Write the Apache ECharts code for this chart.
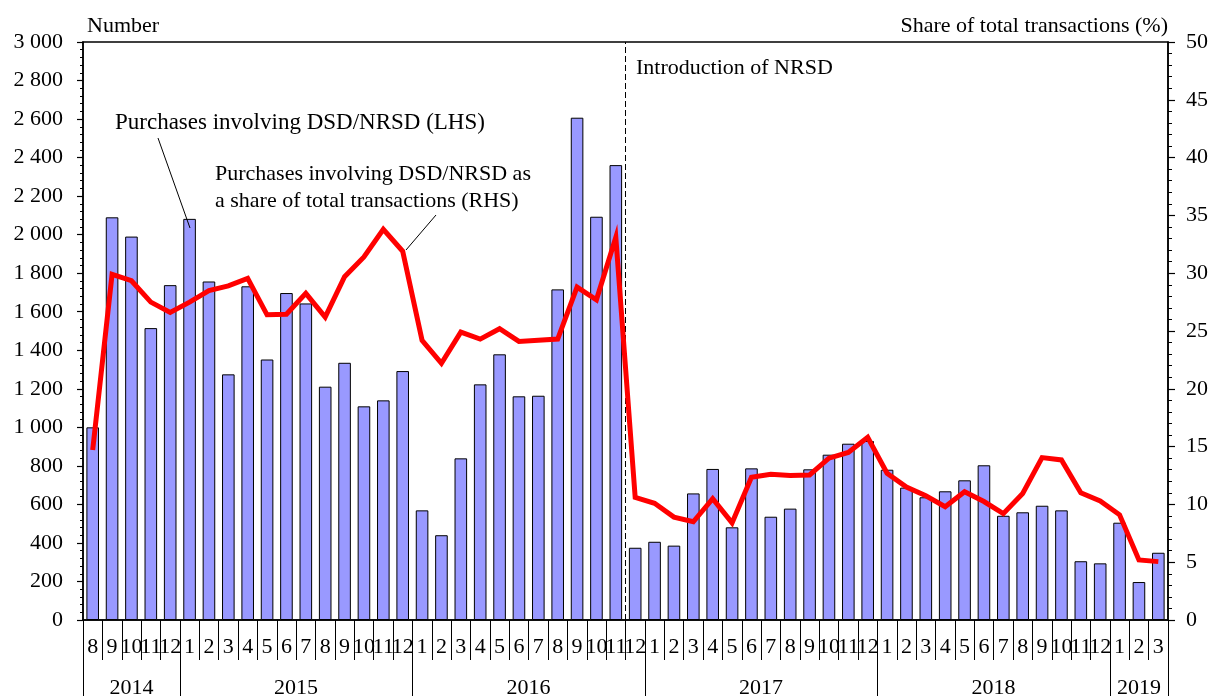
<!DOCTYPE html>
<html>
<head>
<meta charset="utf-8">
<title>DSD/NRSD purchases</title>
<script src="https://cdn.jsdelivr.net/npm/echarts@6/dist/echarts.min.js"></script>
<style>
  html, body { margin: 0; padding: 0; background: #fff; }
  #chart { width: 1213px; height: 696px; }
</style>
</head>
<body>
<div id="chart"></div>
<script>
// month labels, Aug 2014 .. Mar 2019
var monthLabels = [
  '8', '9', '10', '11', '12',
  '1', '2', '3', '4', '5', '6', '7', '8', '9', '10', '11', '12',
  '1', '2', '3', '4', '5', '6', '7', '8', '9', '10', '11', '12',
  '1', '2', '3', '4', '5', '6', '7', '8', '9', '10', '11', '12',
  '1', '2', '3', '4', '5', '6', '7', '8', '9', '10', '11', '12',
  '1', '2', '3'
];
var yearNames = ['2014', '2015', '2016', '2017', '2018', '2019'];
var yearSpans = [5, 12, 12, 12, 12, 3];

// Purchases involving DSD/NRSD (LHS, number)
var purchases = [
  1000, 2090, 1990, 1515, 1738,
  2082, 1757, 1275, 1732, 1352, 1697, 1643, 1211, 1335, 1109, 1140, 1292,
  569, 440, 839, 1223, 1379, 1161, 1164, 1716, 2607, 2093, 2361, 375,
  406, 386, 657, 784, 481, 787, 536, 578, 782, 858, 915, 929,
  780, 687, 637, 668, 725, 803, 541, 559, 593, 569, 305, 294,
  505, 197, 349
];

// Purchases as share of total transactions (RHS, %)
var sharePct = [
  14.7, 29.9, 29.35, 27.5, 26.6,
  27.5, 28.5, 28.9, 29.55, 26.4, 26.45, 28.26, 26.2, 29.7, 31.4, 33.8, 31.9,
  24.2, 22.2, 24.9, 24.3, 25.2, 24.1, 24.2, 24.3, 28.8, 27.7, 33.1, 10.6,
  10.1, 8.9, 8.5, 10.5, 8.4, 12.35, 12.6, 12.5, 12.55, 14.0, 14.5, 15.8,
  12.7, 11.5, 10.75, 9.8, 11.1, 10.25, 9.2, 10.95, 14.05, 13.85, 11.0, 10.3,
  9.1, 5.2, 5.05
];

// boundary (in months from Aug 2014) where NRSD was introduced
var nrsdBoundary = [28, 28];
var nrsdSpan = [0, 3000];

var FONT = "'Liberation Serif', 'Times New Roman', serif";
var FS = 22;

function thousands(v){
  if(v < 1000){
    return String(v);
  }
  var rest = String(v % 1000);
  while(rest.length < 3){ rest = '0' + rest; }
  return Math.floor(v / 1000) + ' ' + rest;
}

// year axis: one entry per month, label in the middle of each year, tick at year starts
var yearAxisData = [];
var yearLabelAt = {};
var yearStartAt = {};
var pos = 0;
for(var i = 0; i < yearNames.length; i++){
  var span = yearSpans[i];
  var mid = pos + Math.floor((span - 1) / 2);
  yearStartAt[pos] = true;
  yearLabelAt[mid] = (span % 2 === 0 ? '{even|' : '{odd|') + yearNames[i] + '}';
  for(var j = 0; j < span; j++){
    yearAxisData.push(yearNames[i]);
  }
  pos += span;
}

var chart = echarts.init(document.getElementById('chart'));

var option = {
  animation: false,
  backgroundColor: '#fff',
  textStyle: { fontFamily: FONT, color: '#000' },
  grid: {
    left: 83, right: 45, top: 42, bottom: 76,
    show: true, borderColor: '#000', borderWidth: 1.5,
    containLabel: false,
    outerBoundsMode: 'none'
  },
  xAxis: [{
    type: 'category',
    position: 'bottom',
    data: monthLabels,
    boundaryGap: true,
    axisLine: { show: true, lineStyle: { color: '#000', width: 1.5 } },
    axisTick: { show: true, interval: 0, length: 40, lineStyle: { color: '#000', width: 1 } },
    axisLabel: { interval: 0, margin: 16, color: '#000', fontFamily: FONT, fontSize: FS },
    splitLine: { show: false }
  }, {
    type: 'category',
    position: 'bottom',
    data: yearAxisData,
    boundaryGap: true,
    axisLine: { show: false },
    axisTick: {
      show: true, length: 76,
      interval: function(index){ return yearStartAt[index] === true; },
      lineStyle: { color: '#000', width: 1 }
    },
    axisLabel: {
      margin: 57,
      interval: function(index){ return yearLabelAt[index] != null; },
      formatter: function(value, index){ return yearLabelAt[index] || ''; },
      rich: {
        odd: { color: '#000', fontFamily: FONT, fontSize: FS },
        even: { color: '#000', fontFamily: FONT, fontSize: FS, padding: [0, 0, 0, 19] }
      }
    },
    splitLine: { show: false }
  }, {
    type: 'value',
    position: 'top',
    min: 0, max: monthLabels.length,
    show: false
  }],
  yAxis: [{
    type: 'value',
    position: 'left',
    min: 0, max: 3000, interval: 200,
    name: 'Number',
    nameLocation: 'end',
    nameGap: 5,
    nameTextStyle: { color: '#000', fontFamily: FONT, fontSize: FS, align: 'left', verticalAlign: 'bottom', padding: [0, 0, 0, 4] },
    axisLine: { show: true, lineStyle: { color: '#000', width: 1.5 } },
    axisTick: { show: true, inside: false, length: 6, lineStyle: { color: '#000', width: 1.2 } },
    minorTick: { show: true, splitNumber: 5, length: 3, lineStyle: { color: '#000', width: 1 } },
    axisLabel: { margin: 20, color: '#000', fontFamily: FONT, fontSize: FS, formatter: thousands },
    splitLine: { show: false }
  }, {
    type: 'value',
    position: 'right',
    min: 0, max: 50, interval: 5,
    name: 'Share of total transactions (%)',
    nameLocation: 'end',
    nameGap: 5,
    nameTextStyle: { color: '#000', fontFamily: FONT, fontSize: FS, align: 'right', verticalAlign: 'bottom' },
    axisLine: { show: true, lineStyle: { color: '#000', width: 1.5 } },
    axisTick: { show: true, inside: false, length: 7, lineStyle: { color: '#000', width: 1.2 } },
    minorTick: { show: true, splitNumber: 5, length: 4, lineStyle: { color: '#000', width: 1 } },
    axisLabel: { margin: 18, color: '#000', fontFamily: FONT, fontSize: FS },
    splitLine: { show: false }
  }],
  series: [{
    name: 'Purchases involving DSD/NRSD (LHS)',
    type: 'bar',
    xAxisIndex: 0,
    yAxisIndex: 0,
    data: purchases,
    barWidth: '65%',
    itemStyle: { color: '#9999ff', borderColor: '#000', borderWidth: 1 },
    z: 2
  }, {
    name: 'NRSD introduced',
    type: 'line',
    xAxisIndex: 2,
    yAxisIndex: 0,
    data: [[nrsdBoundary[0], nrsdSpan[0]], [nrsdBoundary[1], nrsdSpan[1]]],
    symbol: 'none',
    lineStyle: { color: '#000', width: 1, type: [6, 3] },
    z: 3
  }, {
    name: 'Purchases involving DSD/NRSD as a share of total transactions (RHS)',
    type: 'line',
    xAxisIndex: 0,
    yAxisIndex: 1,
    data: sharePct,
    symbol: 'none',
    lineStyle: { color: '#ff0000', width: 5, join: 'miter' },
    z: 4
  }],
  graphic: [
    { type: 'text', left: 115, top: 111, style: { text: 'Purchases involving DSD/NRSD (LHS)', fill: '#000', font: '23px ' + FONT } },
    { type: 'line', shape: { x1: 158, y1: 138, x2: 190, y2: 228 }, style: { stroke: '#000', lineWidth: 1 }, z: 10 },
    { type: 'text', left: 215, top: 161, style: { text: 'Purchases involving DSD/NRSD as\na share of total transactions (RHS)', fill: '#000', font: FS + 'px ' + FONT, lineHeight: 27 } },
    { type: 'line', shape: { x1: 436, y1: 215, x2: 406, y2: 250 }, style: { stroke: '#000', lineWidth: 1 }, z: 10 },
    { type: 'text', left: 636, top: 57, style: { text: 'Introduction of NRSD', fill: '#000', font: FS + 'px ' + FONT } }
  ]
};

chart.setOption(option);
</script>
</body>
</html>
